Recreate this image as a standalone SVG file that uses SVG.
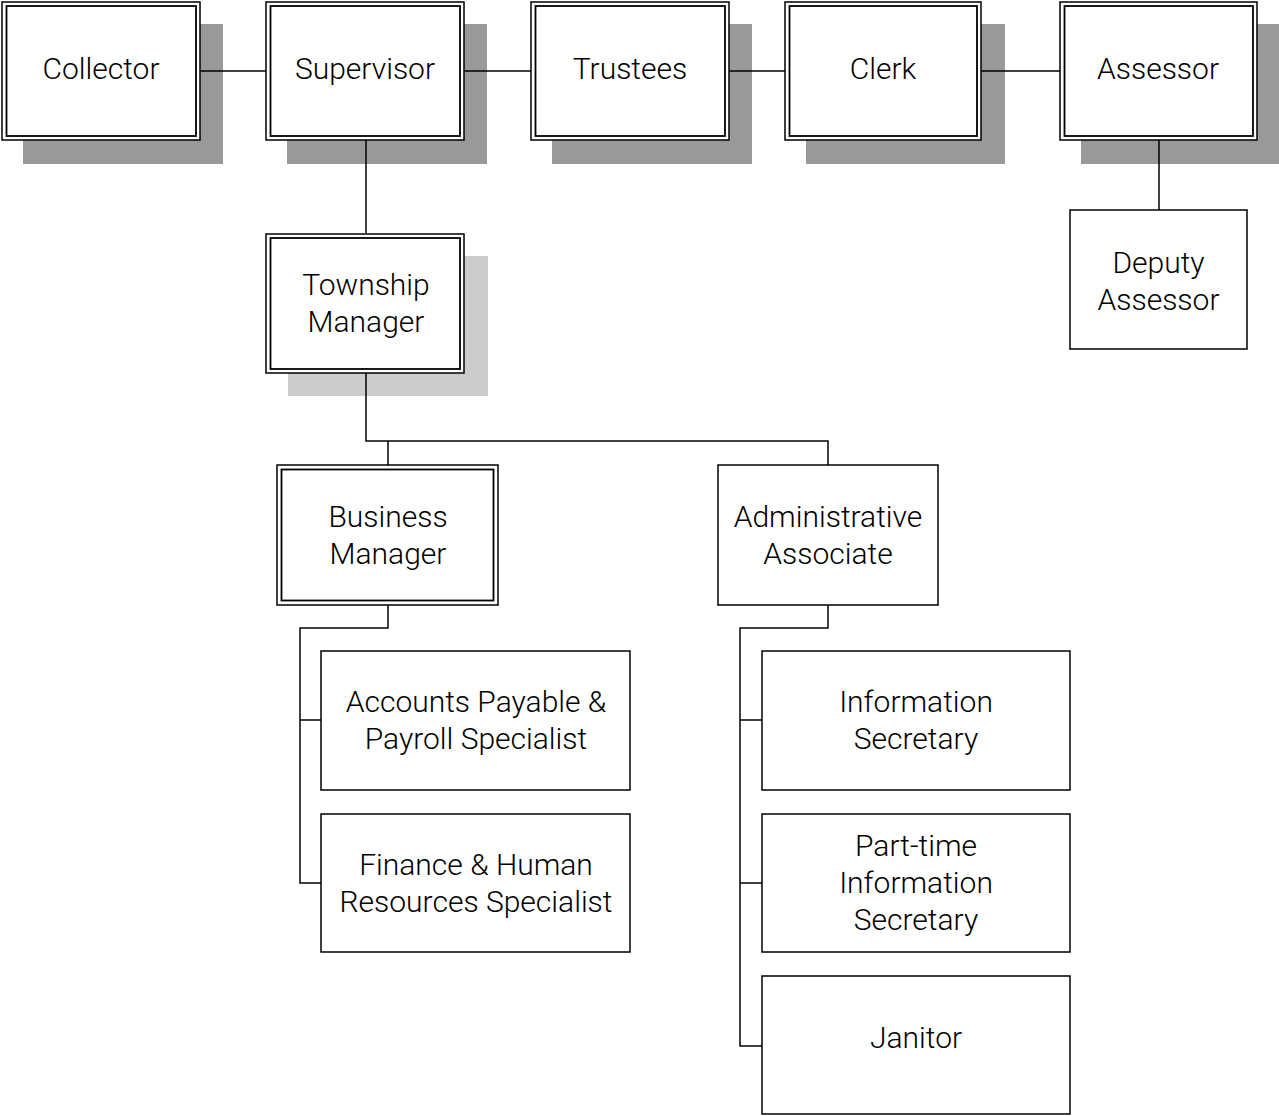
<svg xmlns="http://www.w3.org/2000/svg" width="1279" height="1116" viewBox="0 0 1279 1116">
<style>
.bg{fill:#fff}
.sh{fill:#999}
.shl{fill:#ccc}
.o{fill:#fff;stroke:#000;stroke-width:1.5}
.i{fill:none;stroke:#000;stroke-width:1.8}
.s{fill:#fff;stroke:#000;stroke-width:1.5}
.c{fill:none;stroke:#000;stroke-width:1.5}
text{font-family:Roboto,"Liberation Sans",sans-serif;font-weight:300;font-size:30px;fill:#000;text-anchor:middle}
</style>
<rect class="bg" width="1279" height="1116"/>
<g id="collector">
<rect class="sh" x="23" y="24" width="200" height="140"/>
<rect class="o" x="2" y="2" width="198" height="138"/>
<rect class="i" x="6.5" y="6" width="189.5" height="130"/>
<text x="101" y="79">Collector</text>
</g>
<g id="supervisor">
<rect class="sh" x="287" y="24" width="200" height="140"/>
<rect class="o" x="266" y="2" width="198" height="138"/>
<rect class="i" x="270.5" y="6" width="189.5" height="130"/>
<text x="365" y="79">Supervisor</text>
</g>
<g id="trustees">
<rect class="sh" x="552" y="24" width="200" height="140"/>
<rect class="o" x="531" y="2" width="198" height="138"/>
<rect class="i" x="535.5" y="6" width="189.5" height="130"/>
<text x="630" y="79">Trustees</text>
</g>
<g id="clerk">
<rect class="sh" x="806" y="24" width="199" height="140"/>
<rect class="o" x="785" y="2" width="196" height="138"/>
<rect class="i" x="789.5" y="6" width="187.5" height="130"/>
<text x="883" y="79">Clerk</text>
</g>
<g id="assessor">
<rect class="sh" x="1081" y="24" width="198" height="140"/>
<rect class="o" x="1060" y="2" width="197" height="138"/>
<rect class="i" x="1064.5" y="6" width="188.5" height="130"/>
<text x="1158" y="79">Assessor</text>
</g>
<g id="deputy-assessor">
<rect class="s" x="1070" y="210" width="177" height="139"/>
<text x="1158.5" y="273">Deputy</text>
<text x="1158.5" y="310">Assessor</text>
</g>
<g id="township-manager">
<rect class="shl" x="288" y="256" width="200" height="140"/>
<rect class="o" x="266" y="234" width="198" height="139"/>
<rect class="i" x="270.5" y="238" width="189.5" height="131"/>
<text x="366" y="295">Township</text>
<text x="366" y="332">Manager</text>
</g>
<g id="business-manager">
<rect class="o" x="277" y="465" width="221" height="140"/>
<rect class="i" x="281.5" y="469.5" width="212" height="131"/>
<text x="388" y="527">Business</text>
<text x="388" y="564">Manager</text>
</g>
<g id="administrative-associate">
<rect class="s" x="718" y="465" width="220" height="140"/>
<text x="828" y="527">Administrative</text>
<text x="828" y="564">Associate</text>
</g>
<g id="accounts-payable">
<rect class="s" x="321" y="651" width="309" height="139"/>
<text x="476" y="712">Accounts Payable &amp;</text>
<text x="476" y="749">Payroll Specialist</text>
</g>
<g id="finance-hr">
<rect class="s" x="321" y="814" width="309" height="138"/>
<text x="476" y="875">Finance &amp; Human</text>
<text x="476" y="912">Resources Specialist</text>
</g>
<g id="information-secretary">
<rect class="s" x="762" y="651" width="308" height="139"/>
<text x="916" y="712">Information</text>
<text x="916" y="749">Secretary</text>
</g>
<g id="part-time-information-secretary">
<rect class="s" x="762" y="814" width="308" height="138"/>
<text x="916" y="856">Part-time</text>
<text x="916" y="893">Information</text>
<text x="916" y="930">Secretary</text>
</g>
<g id="janitor">
<rect class="s" x="762" y="976" width="308" height="138"/>
<text x="916" y="1048">Janitor</text>
</g>
<g id="connectors">
<path class="c" d="M200,71H266M464,71H531M729,71H785M981,71H1060"/>
<path class="c" d="M366,140V233"/>
<path class="c" d="M1159,140V210"/>
<path class="c" d="M366,373V441H828V465M388,441V465"/>
<path class="c" d="M388,605V628H300V883H321M300,720H321"/>
<path class="c" d="M828,605V628H740V1046H762M740,720H762M740,883H762"/>
</g>
</svg>
